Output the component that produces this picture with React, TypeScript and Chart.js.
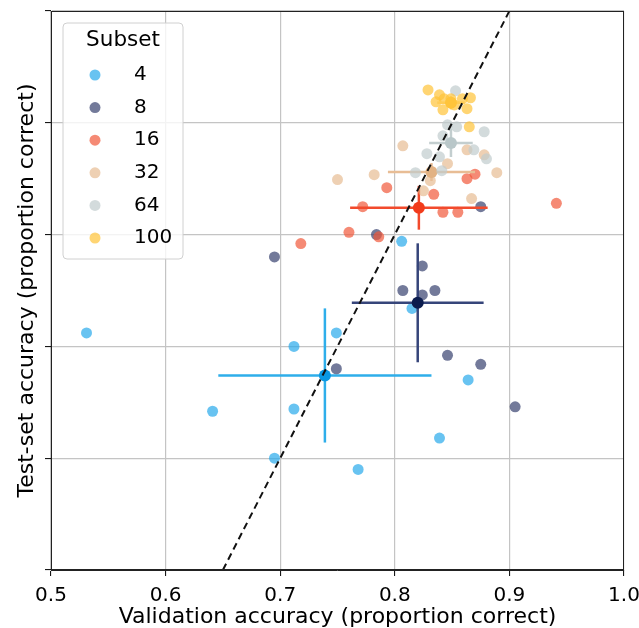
import React, { useEffect, useRef } from "react";
import { Chart, registerables } from "chart.js";

Chart.register(...registerables);

const subsets = ["4", "8", "16", "32", "64", "100"];

const sub4X = [0.531, 0.641, 0.695, 0.712, 0.712, 0.749, 0.768, 0.806, 0.815, 0.839, 0.864];
const sub4Y = [0.756, 0.721, 0.700, 0.750, 0.722, 0.756, 0.695, 0.797, 0.767, 0.709, 0.735];
const sub8X = [0.695, 0.749, 0.784, 0.807, 0.824, 0.824, 0.835, 0.846, 0.875, 0.905, 0.875];
const sub8Y = [0.790, 0.740, 0.800, 0.775, 0.786, 0.773, 0.775, 0.746, 0.742, 0.723, 0.8125];
const sub16X = [0.718, 0.760, 0.772, 0.786, 0.793, 0.834, 0.842, 0.855, 0.863, 0.870, 0.941];
const sub16Y = [0.796, 0.801, 0.8125, 0.799, 0.821, 0.818, 0.810, 0.810, 0.825, 0.827, 0.814];
const sub32X = [0.750, 0.782, 0.807, 0.825, 0.831, 0.846, 0.863, 0.867, 0.878, 0.889];
const sub32Y = [0.8246, 0.8268, 0.8397, 0.8196, 0.8241, 0.8317, 0.8379, 0.8161, 0.8357, 0.8277];
const sub64X = [0.853, 0.846, 0.854, 0.878, 0.842, 0.828, 0.839, 0.869, 0.880, 0.818, 0.841];
const sub64Y = [0.8643, 0.8491, 0.8482, 0.846, 0.8442, 0.8362, 0.8348, 0.8379, 0.8339, 0.8277, 0.8286];
const sub100X = [0.829, 0.839, 0.836, 0.843, 0.849, 0.852, 0.842, 0.859, 0.866, 0.863, 0.865];
const sub100Y = [0.8647, 0.8625, 0.8594, 0.8607, 0.8607, 0.858, 0.8558, 0.8607, 0.8612, 0.8563, 0.8482];

const meanX = [0.739, 0.820, 0.821, 0.832, 0.849, 0.849];
const meanY = [0.737, 0.7695, 0.812, 0.828, 0.841, 0.859];
const errX = [0.093, 0.0575, 0.060, 0.038, 0.019, 0.012];
const errY = [0.030, 0.0266, 0.0098, 0.004, 0.0063, 0.003];

const xTicks = [0.5, 0.6, 0.7, 0.8, 0.9, 1.0];
const diagonal = [0.65, 0.9];

const allX = [sub4X, sub8X, sub16X, sub32X, sub64X, sub100X];
const allY = [sub4Y, sub8Y, sub16Y, sub32Y, sub64Y, sub100Y];

const pointColors = [
  "rgba(40,170,235,0.7)",
  "rgba(48,59,106,0.68)",
  "rgba(241,88,59,0.7)",
  "rgba(228,179,132,0.62)",
  "rgba(192,204,205,0.7)",
  "rgba(255,195,56,0.7)",
];
const meanColors = ["#0A98E3", "#0C1C4E", "#F23B1B", "#E2B283", "#B9C7C9", "#FFC43A"];
const errColors = ["#2EAEEA", "#36457A", "#F24A2C", "#E8BD95", "#C3CECF", "#FFCC55"];

const FONT = '"DejaVu Sans", "Liberation Sans", sans-serif';

const framePlugin = {
  id: "frameAndLegend",
  afterDraw(chart: any) {
    const { ctx, chartArea } = chart;
    ctx.save();
    // legend
    const x0 = chartArea.left + 12;
    const y0 = chartArea.top + 12;
    const w = 120;
    const h = 236;
    const r = 4;
    ctx.beginPath();
    ctx.moveTo(x0 + r, y0);
    ctx.lineTo(x0 + w - r, y0);
    ctx.quadraticCurveTo(x0 + w, y0, x0 + w, y0 + r);
    ctx.lineTo(x0 + w, y0 + h - r);
    ctx.quadraticCurveTo(x0 + w, y0 + h, x0 + w - r, y0 + h);
    ctx.lineTo(x0 + r, y0 + h);
    ctx.quadraticCurveTo(x0, y0 + h, x0, y0 + h - r);
    ctx.lineTo(x0, y0 + r);
    ctx.quadraticCurveTo(x0, y0, x0 + r, y0);
    ctx.closePath();
    ctx.fillStyle = "rgba(255,255,255,0.8)";
    ctx.fill();
    ctx.strokeStyle = "#d0d0d0";
    ctx.lineWidth = 1;
    ctx.stroke();

    ctx.fillStyle = "#000";
    ctx.textBaseline = "middle";
    ctx.textAlign = "center";
    ctx.font = "21.5px " + FONT;
    ctx.fillText("Subset", x0 + w / 2, chartArea.top + 29);
    ctx.font = "20px " + FONT;
    ctx.textAlign = "left";
    subsets.forEach((s, i) => {
      const cy = chartArea.top + 64 + i * 32.6;
      ctx.beginPath();
      ctx.arc(x0 + 32, cy, 5.5, 0, Math.PI * 2);
      ctx.fillStyle = pointColors[i];
      ctx.fill();
      ctx.fillStyle = "#000";
      ctx.fillText(s, x0 + 71, cy);
    });

    // frame
    ctx.strokeStyle = "#222";
    ctx.lineWidth = 1;
    ctx.strokeRect(
      Math.round(chartArea.left) + 0.5,
      Math.round(chartArea.top) + 0.5,
      Math.round(chartArea.right - chartArea.left) - 1,
      Math.round(chartArea.bottom - chartArea.top) - 1
    );
    ctx.restore();
  },
};

export default function App() {
  const ref = useRef<HTMLCanvasElement | null>(null);
  useEffect(() => {
    if (!ref.current) return;
    const list: any[] = [];
    subsets.forEach((s, i) => {
      list.push({
        label: s,
        data: allX[i].map((x, j) => ({ x, y: allY[i][j] })),
        backgroundColor: pointColors[i],
        borderWidth: 0,
        pointRadius: 5.5,
        pointHoverRadius: 5.5,
        showLine: false,
      });
      list.push({
        label: s + " xerr",
        data: [
          { x: meanX[i] - errX[i], y: meanY[i] },
          { x: meanX[i] + errX[i], y: meanY[i] },
        ],
        borderColor: errColors[i],
        borderWidth: 2.5,
        pointRadius: 0,
        showLine: true,
      });
      list.push({
        label: s + " yerr",
        data: [
          { x: meanX[i], y: meanY[i] - errY[i] },
          { x: meanX[i], y: meanY[i] + errY[i] },
        ],
        borderColor: errColors[i],
        borderWidth: 2.5,
        pointRadius: 0,
        showLine: true,
      });
      list.push({
        label: s + " mean",
        data: [{ x: meanX[i], y: meanY[i] }],
        backgroundColor: meanColors[i],
        borderWidth: 0,
        pointRadius: 6,
        showLine: false,
      });
    });
    list.push({
      label: "diagonal",
      data: diagonal.map((v) => ({ x: v, y: v })),
      borderColor: "#111",
      borderWidth: 2,
      borderDash: [7, 4.5],
      pointRadius: 0,
      showLine: true,
    });
    list.forEach((d, idx) => {
      d.order = list.length - idx;
    });

    const chart = new Chart(ref.current, {
      type: "scatter",
      data: { datasets: list },
      plugins: [framePlugin],
      options: {
        animation: false,
        responsive: false,
        devicePixelRatio: 1,
        layout: { padding: { top: 11, right: 15, left: 0, bottom: 0 } },
        plugins: { legend: { display: false }, tooltip: { enabled: false } },
        scales: {
          x: {
            type: "linear",
            min: 0.5,
            max: 1.0,
            afterBuildTicks: (scale: any) => {
              scale.ticks = xTicks.map((v) => ({ value: v }));
            },
            afterFit: (scale: any) => {
              scale.height = 58;
              scale.paddingLeft = 0;
              scale.paddingRight = 0;
            },
            ticks: {
              font: { family: FONT, size: 20 },
              color: "#000",
              padding: 8,
              maxRotation: 0,
              callback: (v: any) => Number(v).toFixed(1),
            },
            grid: { color: "#c4c4c4", lineWidth: 1.2, tickLength: 6, tickColor: "#000", tickWidth: 1 },
            border: { display: true, color: "#222", width: 1 },
            title: {
              display: true,
              text: "Validation accuracy (proportion correct)",
              font: { family: FONT, size: 22 },
              color: "#000",
              padding: { top: 0, bottom: -2 },
            },
          },
          y: {
            type: "linear",
            min: 0.65,
            max: 0.9,
            ticks: { stepSize: 0.05, display: false },
            afterFit: (scale: any) => {
              scale.width = 51;
              scale.paddingTop = 0;
              scale.paddingBottom = 0;
            },
            grid: { color: "#c4c4c4", lineWidth: 1.2, tickLength: 6, tickColor: "#000", tickWidth: 1 },
            border: { display: true, color: "#222", width: 1 },
            title: {
              display: true,
              text: "Test-set accuracy (proportion correct)",
              font: { family: FONT, size: 22 },
              color: "#000",
              padding: { top: 14, bottom: 0 },
            },
          },
        },
      },
    } as any);
    return () => chart.destroy();
  }, []);

  return (
    <div style={{ position: "fixed", left: 0, top: 0, width: 639, height: 628 }}>
      <canvas ref={ref} width={639} height={628} style={{ display: "block" }} />
    </div>
  );
}
